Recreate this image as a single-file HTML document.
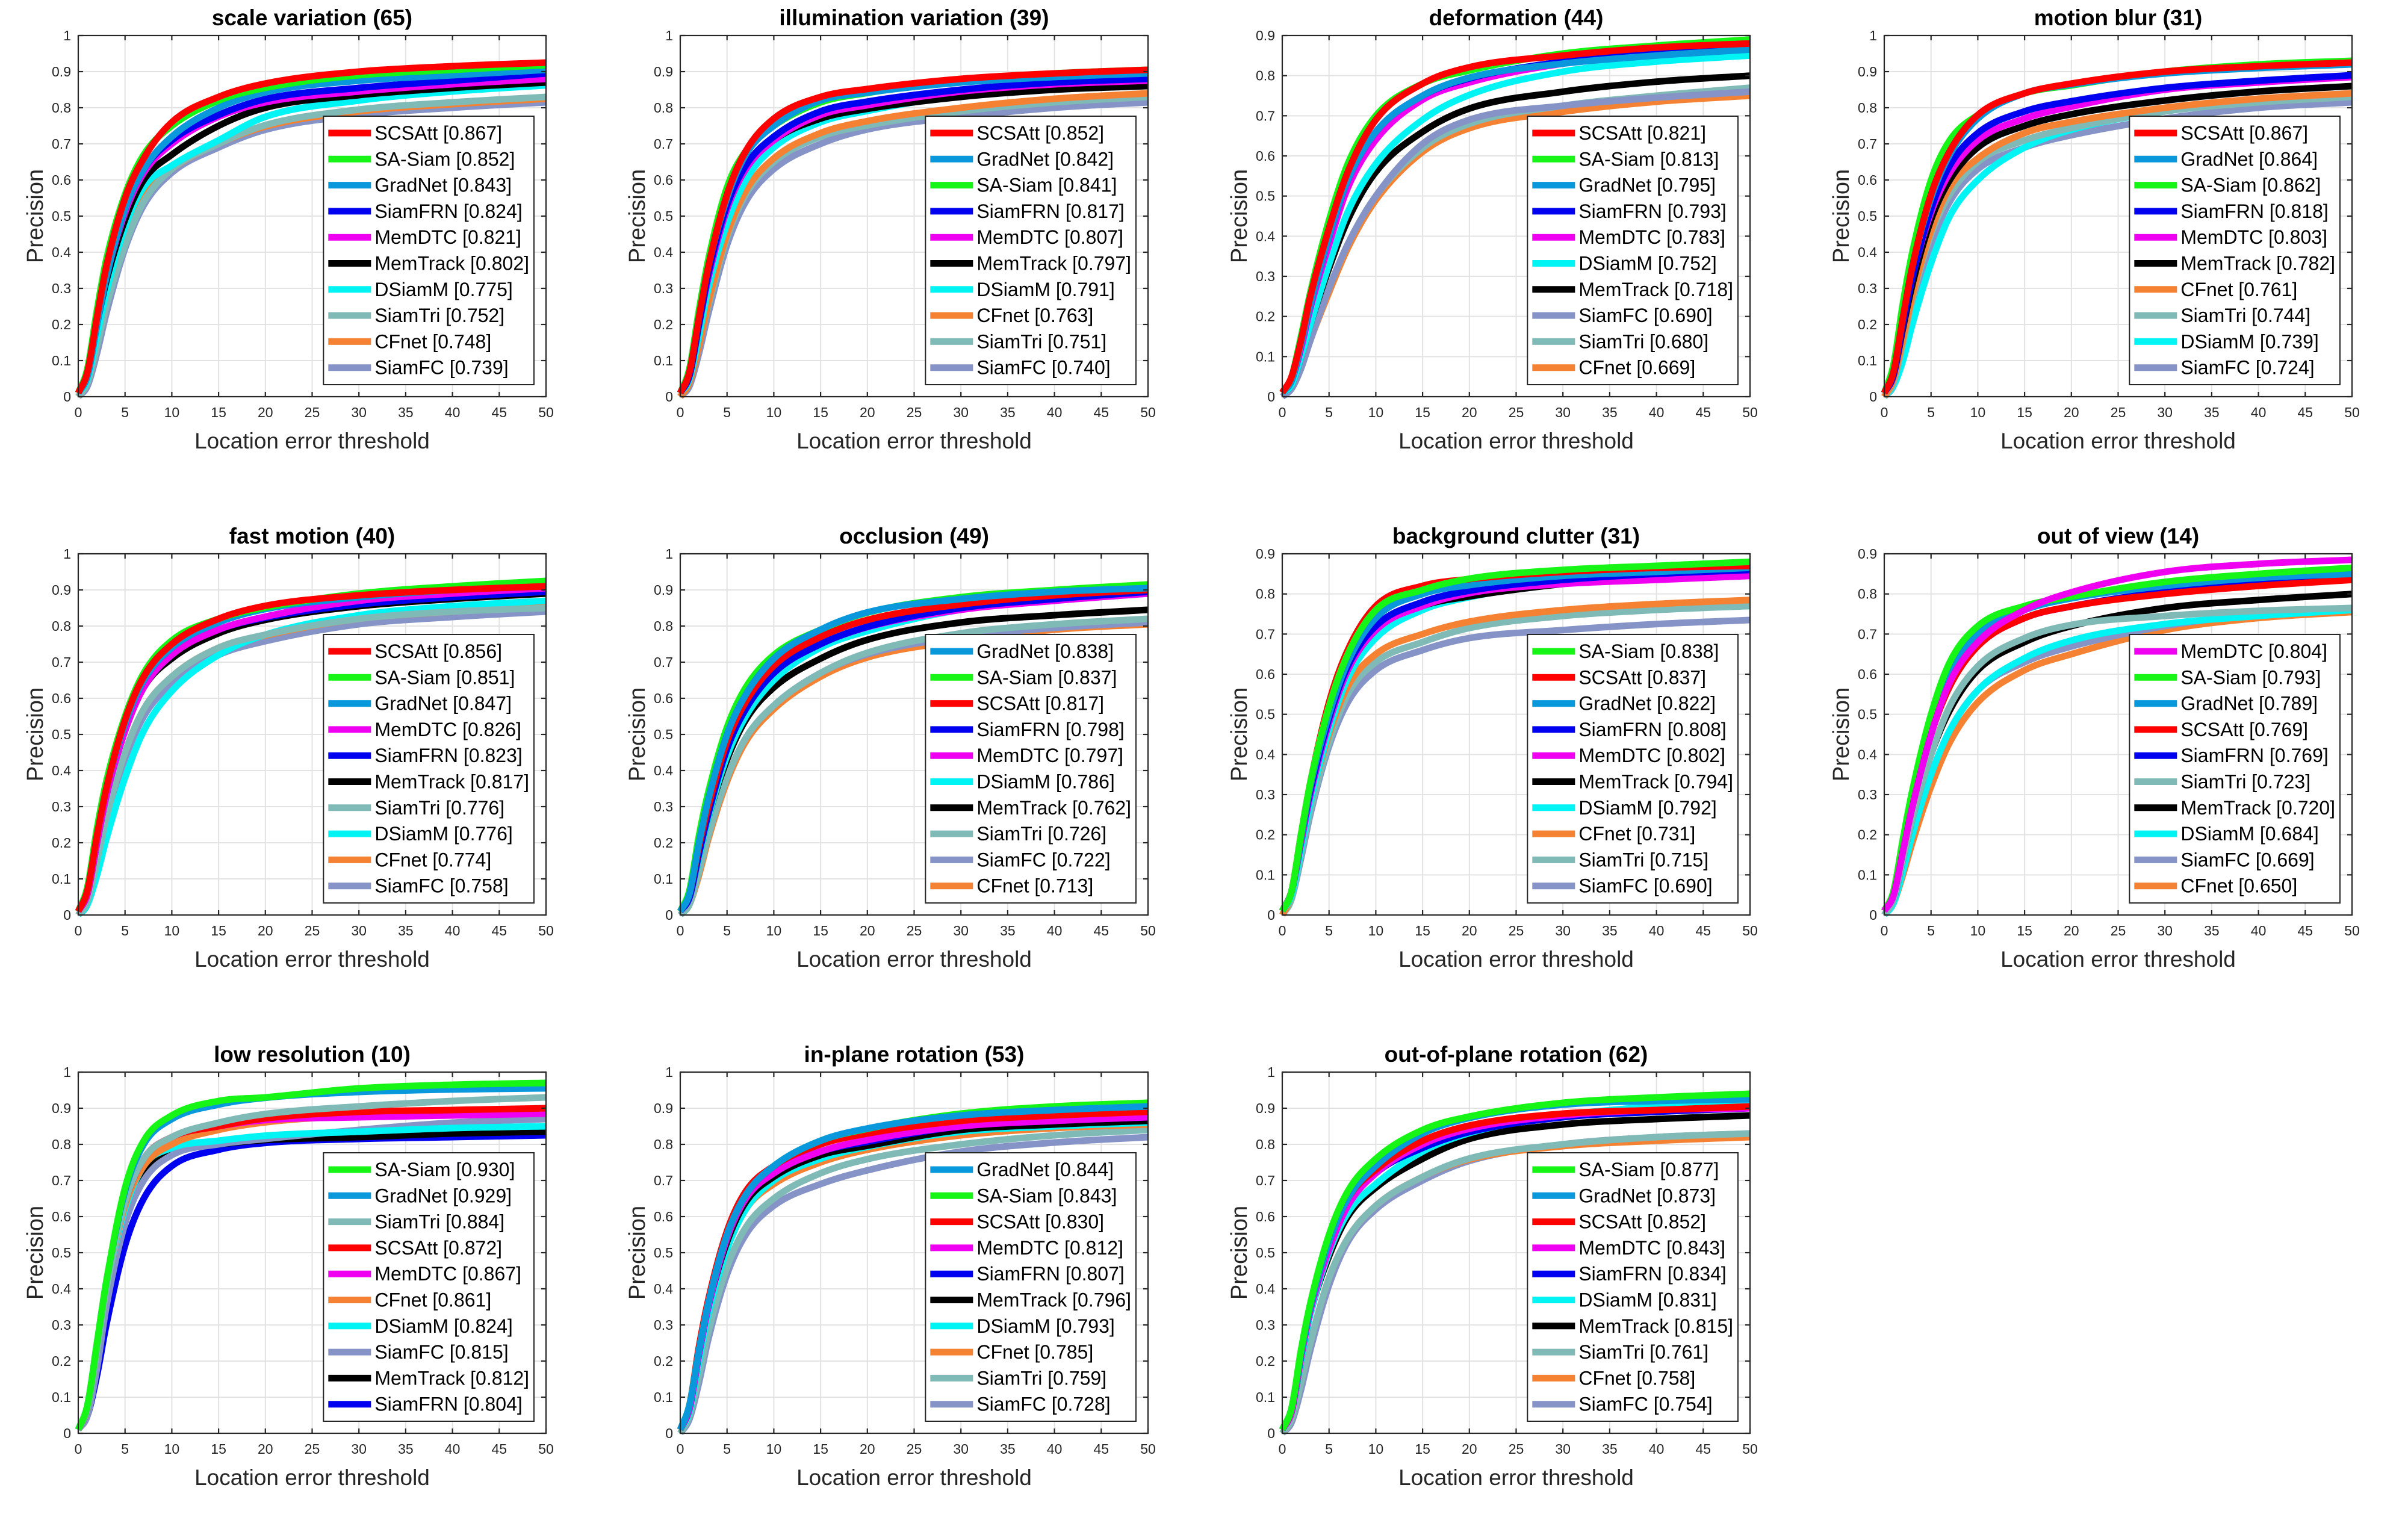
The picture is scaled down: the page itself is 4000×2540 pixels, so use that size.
<!DOCTYPE html>
<html><head><meta charset="utf-8">
<style>
html,body{margin:0;padding:0;background:#fff;}
svg{display:block;font-family:"Liberation Sans",Arial,sans-serif;}
</style></head>
<body>
<svg id="fig" xmlns="http://www.w3.org/2000/svg" width="4000" height="2540" viewBox="0 0 4000 2540">
<rect width="4000" height="2540" fill="#fff"/>
</svg>
<script>
const thresholds = [0,1,2,3,5,7,10,15,20,30,40,50];
const colors = {"SCSAtt":"#ff0000","SA-Siam":"#16f516","GradNet":"#0a98dc","SiamFRN":"#0000f0","MemDTC":"#f000f0","MemTrack":"#000000","DSiamM":"#00f4f4","SiamTri":"#80bab6","CFnet":"#f58233","SiamFC":"#8593c6"};

const titles = ["scale variation (65)","illumination variation (39)","deformation (44)","motion blur (31)","fast motion (40)","occlusion (49)","background clutter (31)","out of view (14)","low resolution (10)","in-plane rotation (53)","out-of-plane rotation (62)"];
const yMaxes = [1,1,0.9,1,1,1,0.9,0.9,1,1,1];

const names1 = ["SCSAtt","SA-Siam","GradNet","SiamFRN","MemDTC","MemTrack","DSiamM","SiamTri","CFnet","SiamFC"];
const scores1 = ["0.867","0.852","0.843","0.824","0.821","0.802","0.775","0.752","0.748","0.739"];
const values1 = [
[.01,.07,.22,.36,.55,.66,.76,.83,.867,.90,.915,.925],
[.01,.08,.24,.38,.56,.67,.75,.82,.855,.89,.905,.918],
[.01,.06,.2,.33,.52,.63,.72,.80,.843,.875,.89,.905],
[.01,.06,.2,.33,.52,.63,.71,.78,.824,.855,.875,.895],
[.01,.06,.2,.33,.51,.62,.70,.775,.815,.845,.865,.88],
[.01,.06,.2,.32,.49,.60,.67,.75,.80,.835,.855,.87],
[.01,.05,.17,.29,.47,.58,.64,.71,.775,.82,.845,.862],
[0,.04,.14,.25,.42,.54,.63,.70,.752,.795,.815,.83],
[0,.04,.14,.25,.43,.55,.63,.70,.748,.79,.81,.825],
[0,.03,.12,.23,.41,.53,.62,.69,.739,.78,.80,.815]];

const names2 = ["SCSAtt","GradNet","SA-Siam","SiamFRN","MemDTC","MemTrack","DSiamM","CFnet","SiamTri","SiamFC"];
const scores2 = ["0.852","0.842","0.841","0.817","0.807","0.797","0.791","0.763","0.751","0.740"];
const values2 = [
[.01,.07,.22,.36,.56,.68,.77,.83,.852,.88,.895,.905],
[.01,.07,.22,.36,.55,.67,.75,.82,.842,.87,.885,.895],
[.01,.08,.24,.38,.58,.68,.75,.815,.841,.875,.895,.905],
[.01,.06,.2,.34,.53,.64,.72,.79,.817,.85,.87,.88],
[.01,.06,.2,.33,.52,.63,.71,.78,.807,.845,.865,.875],
[.01,.06,.2,.33,.52,.63,.71,.77,.797,.83,.85,.86],
[.01,.05,.17,.3,.48,.6,.69,.76,.791,.835,.86,.87],
[0,.04,.14,.26,.45,.57,.66,.73,.763,.80,.825,.84],
[0,.04,.14,.25,.44,.56,.65,.72,.751,.79,.815,.83],
[0,.03,.12,.23,.42,.54,.63,.70,.740,.775,.80,.815]];

const names3 = ["SCSAtt","SA-Siam","GradNet","SiamFRN","MemDTC","DSiamM","MemTrack","SiamFC","SiamTri","CFnet"];
const scores3 = ["0.821","0.813","0.795","0.793","0.783","0.752","0.718","0.690","0.680","0.669"];
const values3 = [
[.01,.05,.14,.25,.42,.56,.69,.78,.821,.85,.87,.88],
[.01,.05,.15,.26,.44,.58,.70,.78,.813,.855,.875,.89],
[.01,.04,.13,.23,.40,.54,.66,.75,.795,.83,.85,.865],
[.01,.04,.13,.23,.40,.54,.66,.75,.793,.835,.86,.875],
[.01,.04,.12,.22,.38,.52,.64,.74,.783,.83,.855,.87],
[.01,.03,.1,.18,.33,.46,.58,.69,.752,.81,.835,.85],
[.01,.03,.1,.18,.32,.44,.56,.66,.718,.76,.785,.80],
[0,.02,.07,.14,.27,.38,.50,.63,.690,.725,.745,.76],
[0,.02,.07,.14,.27,.38,.50,.62,.680,.725,.75,.77],
[0,.02,.07,.14,.26,.37,.49,.61,.669,.71,.735,.75]];

const names4 = ["SCSAtt","GradNet","SA-Siam","SiamFRN","MemDTC","MemTrack","CFnet","SiamTri","DSiamM","SiamFC"];
const scores4 = ["0.867","0.864","0.862","0.818","0.803","0.782","0.761","0.744","0.739","0.724"];
const values4 = [
[.01,.07,.22,.36,.56,.68,.78,.84,.867,.90,.915,.925],
[.01,.07,.22,.36,.55,.67,.77,.84,.864,.895,.91,.92],
[.01,.09,.26,.40,.60,.71,.78,.84,.862,.90,.92,.93],
[.01,.06,.2,.33,.52,.64,.73,.79,.818,.855,.875,.89],
[.01,.06,.2,.33,.51,.62,.71,.77,.803,.85,.87,.885],
[.01,.06,.19,.31,.49,.60,.69,.75,.782,.82,.845,.86],
[0,.05,.16,.28,.46,.58,.66,.73,.761,.80,.825,.84],
[0,.04,.15,.27,.45,.56,.65,.71,.744,.79,.815,.83],
[0,.03,.1,.2,.37,.50,.60,.69,.739,.79,.82,.84],
[0,.03,.12,.23,.42,.54,.63,.69,.724,.77,.80,.815]];

const names5 = ["SCSAtt","SA-Siam","GradNet","MemDTC","SiamFRN","MemTrack","SiamTri","DSiamM","CFnet","SiamFC"];
const scores5 = ["0.856","0.851","0.847","0.826","0.823","0.817","0.776","0.776","0.774","0.758"];
const values5 = [
[.01,.07,.22,.35,.54,.66,.75,.82,.856,.885,.90,.91],
[.01,.08,.24,.37,.55,.67,.76,.82,.851,.89,.91,.925],
[.01,.07,.22,.35,.53,.65,.74,.81,.847,.88,.90,.915],
[.01,.06,.2,.33,.51,.63,.72,.79,.826,.87,.89,.905],
[.01,.06,.2,.33,.51,.63,.72,.79,.823,.86,.88,.895],
[.01,.06,.2,.33,.51,.63,.71,.78,.817,.855,.875,.89],
[0,.04,.15,.27,.45,.57,.66,.74,.776,.82,.84,.85],
[0,.03,.11,.21,.38,.51,.62,.72,.776,.83,.855,.87],
[0,.04,.15,.27,.45,.57,.66,.74,.774,.82,.84,.855],
[0,.03,.13,.24,.43,.55,.64,.72,.758,.805,.825,.84]];

const names6 = ["GradNet","SA-Siam","SCSAtt","SiamFRN","MemDTC","DSiamM","MemTrack","SiamTri","SiamFC","CFnet"];
const scores6 = ["0.838","0.837","0.817","0.798","0.797","0.786","0.762","0.726","0.722","0.713"];
const values6 = [
[.01,.06,.2,.32,.50,.61,.71,.79,.838,.875,.895,.905],
[.01,.07,.22,.34,.52,.63,.72,.79,.837,.88,.90,.915],
[.01,.06,.19,.30,.48,.59,.69,.77,.817,.86,.885,.90],
[.01,.05,.17,.28,.46,.57,.67,.75,.798,.85,.875,.895],
[.01,.05,.17,.28,.46,.57,.67,.75,.797,.845,.87,.89],
[.01,.05,.16,.27,.44,.55,.65,.74,.786,.845,.87,.89],
[.01,.05,.16,.27,.43,.54,.63,.71,.762,.81,.83,.845],
[0,.03,.12,.22,.38,.49,.58,.67,.726,.78,.805,.82],
[0,.03,.12,.22,.38,.49,.58,.67,.722,.77,.795,.81],
[0,.03,.11,.21,.37,.48,.57,.66,.713,.76,.79,.805]];

const names7 = ["SA-Siam","SCSAtt","GradNet","SiamFRN","MemDTC","MemTrack","DSiamM","CFnet","SiamTri","SiamFC"];
const scores7 = ["0.838","0.837","0.822","0.808","0.802","0.794","0.792","0.731","0.715","0.690"];
const values7 = [
[.01,.06,.2,.33,.52,.65,.76,.81,.838,.86,.87,.88],
[.01,.06,.2,.33,.53,.66,.77,.82,.837,.855,.865,.87],
[.01,.06,.19,.32,.50,.63,.74,.80,.822,.845,.855,.865],
[.01,.06,.19,.31,.49,.62,.72,.78,.808,.835,.85,.86],
[.01,.06,.18,.30,.48,.61,.71,.77,.802,.825,.835,.845],
[.01,.06,.18,.30,.48,.61,.71,.77,.794,.825,.845,.855],
[.01,.05,.16,.28,.46,.59,.69,.76,.792,.83,.85,.86],
[0,.05,.16,.28,.45,.57,.65,.70,.731,.76,.775,.785],
[0,.04,.15,.26,.43,.55,.63,.68,.715,.745,.76,.77],
[0,.04,.14,.25,.42,.53,.61,.66,.690,.71,.725,.735]];

const names8 = ["MemDTC","SA-Siam","GradNet","SCSAtt","SiamFRN","SiamTri","MemTrack","DSiamM","SiamFC","CFnet"];
const scores8 = ["0.804","0.793","0.789","0.769","0.769","0.723","0.720","0.684","0.669","0.650"];
const values8 = [
[.01,.05,.16,.27,.45,.58,.68,.76,.804,.855,.875,.885],
[.01,.06,.19,.31,.50,.63,.72,.77,.793,.83,.85,.865],
[.01,.05,.17,.28,.47,.60,.70,.76,.789,.82,.84,.85],
[.01,.05,.16,.27,.45,.57,.67,.74,.769,.80,.82,.835],
[.01,.05,.16,.27,.45,.57,.67,.74,.769,.805,.825,.84],
[0,.04,.14,.24,.40,.52,.62,.69,.723,.745,.758,.765],
[.01,.04,.14,.24,.40,.51,.61,.68,.720,.765,.785,.80],
[0,.03,.11,.2,.35,.46,.56,.64,.684,.725,.745,.76],
[0,.03,.11,.2,.35,.46,.56,.63,.669,.72,.75,.765],
[0,.03,.1,.18,.32,.43,.53,.61,.650,.71,.74,.755]];

const names9 = ["SA-Siam","GradNet","SiamTri","SCSAtt","MemDTC","CFnet","DSiamM","SiamFC","MemTrack","SiamFRN"];
const scores9 = ["0.930","0.929","0.884","0.872","0.867","0.861","0.824","0.815","0.812","0.804"];
const values9 = [
[.01,.08,.25,.42,.68,.81,.88,.92,.930,.955,.965,.97],
[.01,.08,.25,.42,.67,.80,.87,.91,.929,.945,.952,.955],
[.01,.07,.23,.40,.64,.76,.82,.86,.884,.905,.92,.93],
[.01,.07,.24,.41,.64,.76,.82,.85,.872,.89,.895,.90],
[.01,.07,.24,.41,.64,.76,.82,.85,.867,.875,.88,.885],
[.01,.07,.23,.40,.63,.74,.80,.84,.861,.88,.89,.90],
[.01,.07,.23,.40,.62,.74,.79,.81,.824,.835,.845,.85],
[.01,.05,.18,.35,.58,.70,.77,.80,.815,.84,.86,.87],
[.01,.07,.24,.40,.62,.73,.78,.80,.812,.82,.83,.835],
[.01,.05,.16,.30,.52,.65,.74,.785,.804,.815,.82,.825]];

const names10 = ["GradNet","SA-Siam","SCSAtt","MemDTC","SiamFRN","MemTrack","DSiamM","CFnet","SiamTri","SiamFC"];
const scores10 = ["0.844","0.843","0.830","0.812","0.807","0.796","0.793","0.785","0.759","0.728"];
const values10 = [
[.01,.08,.23,.36,.55,.66,.74,.81,.844,.88,.895,.905],
[.01,.08,.23,.36,.55,.66,.74,.81,.843,.885,.905,.915],
[.01,.08,.24,.37,.56,.67,.74,.80,.830,.865,.88,.89],
[.01,.07,.22,.35,.54,.65,.72,.78,.812,.85,.865,.875],
[.01,.07,.22,.35,.54,.65,.72,.78,.807,.85,.865,.875],
[.01,.07,.22,.35,.53,.64,.71,.77,.796,.84,.855,.865],
[.01,.06,.2,.33,.51,.62,.70,.76,.793,.835,.85,.86],
[.01,.06,.2,.33,.51,.62,.69,.75,.785,.825,.845,.855],
[0,.05,.16,.28,.46,.57,.65,.72,.759,.80,.825,.84],
[0,.04,.14,.26,.44,.55,.63,.69,.728,.78,.805,.82]];

const names11 = ["SA-Siam","GradNet","SCSAtt","MemDTC","SiamFRN","DSiamM","MemTrack","SiamTri","CFnet","SiamFC"];
const scores11 = ["0.877","0.873","0.852","0.843","0.834","0.831","0.815","0.761","0.758","0.754"];
const values11 = [
[.01,.07,.23,.36,.55,.67,.76,.84,.877,.915,.93,.94],
[.01,.07,.22,.35,.53,.65,.74,.83,.873,.91,.92,.925],
[.01,.07,.22,.35,.53,.65,.73,.81,.852,.885,.895,.905],
[.01,.06,.21,.34,.51,.63,.72,.80,.843,.88,.895,.90],
[.01,.06,.21,.34,.51,.63,.72,.79,.834,.875,.89,.90],
[.01,.06,.2,.33,.50,.61,.69,.78,.831,.88,.905,.915],
[.01,.06,.2,.33,.49,.60,.68,.76,.815,.855,.87,.88],
[0,.04,.14,.25,.43,.54,.63,.71,.761,.80,.82,.83],
[0,.04,.14,.25,.43,.54,.63,.71,.758,.795,.81,.82],
[0,.03,.12,.23,.41,.53,.62,.70,.754,.80,.82,.83]];

const xTicks = [0,5,10,15,20,25,30,35,40,45,50];
const yTicks = [0,0.1,0.2,0.3,0.4,0.5,0.6,0.7,0.8,0.9,1];

const allNames=[names1,names2,names3,names4,names5,names6,names7,names8,names9,names10,names11];
const allScores=[scores1,scores2,scores3,scores4,scores5,scores6,scores7,scores8,scores9,scores10,scores11];
const allValues=[values1,values2,values3,values4,values5,values6,values7,values8,values9,values10,values11];

const NS="http://www.w3.org/2000/svg";
const fig=document.getElementById('fig');
function mk(tag,attrs,parent){const e=document.createElementNS(NS,tag);for(const k in attrs)e.setAttribute(k,attrs[k]);parent.appendChild(e);return e;}

function monotonePath(xs,ys,sx,sy){
  const n=xs.length,d=[],m=new Array(n);
  for(let i=0;i<n-1;i++)d.push((ys[i+1]-ys[i])/(xs[i+1]-xs[i]));
  m[0]=d[0];m[n-1]=d[n-2];
  for(let i=1;i<n-1;i++){m[i]=(d[i-1]*d[i]<=0)?0:(d[i-1]+d[i])/2;}
  for(let i=0;i<n-1;i++){if(d[i]===0){m[i]=0;m[i+1]=0;continue;}const a=m[i]/d[i],b=m[i+1]/d[i],s=a*a+b*b;if(s>9){const t=3/Math.sqrt(s);m[i]=t*a*d[i];m[i+1]=t*b*d[i];}}
  let p='M'+sx(xs[0]).toFixed(1)+','+sy(ys[0]).toFixed(1);
  for(let i=0;i<n-1;i++){const h=xs[i+1]-xs[i];
    p+=' C'+sx(xs[i]+h/3).toFixed(1)+','+sy(ys[i]+m[i]*h/3).toFixed(1)+' '+sx(xs[i+1]-h/3).toFixed(1)+','+sy(ys[i+1]-m[i+1]*h/3).toFixed(1)+' '+sx(xs[i+1]).toFixed(1)+','+sy(ys[i+1]).toFixed(1);}
  return p;
}

const AW=777,AH=600,TXT="#262626";
for(let c=0;c<11;c++){
  const col=c%4,row=Math.floor(c/4);
  const L=130+1000*col,T=59+861*row,R=L+AW,B=T+AH;
  const ymax=yMaxes[c];
  const sx=v=>L+v/50*AW;
  const sy=v=>B-v/ymax*AH;
  const g=mk('g',{},fig);
  
  
  mk('rect',{x:L,y:T,width:AW,height:AH,fill:'#fff'},g);
  const grid=mk('g',{stroke:'#e3e3e3','stroke-width':2},g);
  
  
  xTicks.forEach(t=>{mk('line',{x1:sx(t),x2:sx(t),y1:T,y2:B},grid);});
  yTicks.filter(t=>t<=ymax+1e-9).forEach(t=>{mk('line',{x1:L,x2:R,y1:sy(t),y2:sy(t)},grid);});
  const names=allNames[c],vals=allValues[c],scores=allScores[c];
  for(let s=names.length-1;s>=0;s--){
    const p=mk('path',{d:monotonePath(thresholds,vals[s],sx,sy),fill:'none',stroke:colors[names[s]],'stroke-width':11,'stroke-linejoin':'round','stroke-linecap':'butt'},g);
    
    
  }
  const ax=mk('g',{stroke:TXT,'stroke-width':2.2,fill:'none'},g);
  
  
  mk('rect',{x:L,y:T,width:AW,height:AH},ax);
  xTicks.forEach(t=>{mk('line',{x1:sx(t),x2:sx(t),y1:B,y2:B-8},ax);mk('line',{x1:sx(t),x2:sx(t),y1:T,y2:T+8},ax);});
  yTicks.filter(t=>t<=ymax+1e-9).forEach(t=>{mk('line',{x1:L,x2:L+8,y1:sy(t),y2:sy(t)},ax);mk('line',{x1:R,x2:R-8,y1:sy(t),y2:sy(t)},ax);});
  xTicks.forEach(t=>{const e=mk('text',{x:sx(t),y:B+34,'text-anchor':'middle','font-size':23,fill:TXT},g);e.textContent=t;
    
    });
  yTicks.filter(t=>t<=ymax+1e-9).forEach(t=>{const e=mk('text',{x:L-12,y:sy(t)+8,'text-anchor':'end','font-size':23,fill:TXT},g);e.textContent=(t===0?'0':t===1?'1':t.toFixed(1));
    
    });
  const ti=mk('text',{x:L+AW/2,y:T-17,'text-anchor':'middle','font-size':37,'font-weight':'bold',fill:'#000'},g);ti.textContent=titles[c];
  
  
  const xl=mk('text',{x:L+AW/2,y:B+86,'text-anchor':'middle','font-size':37,fill:TXT},g);xl.textContent='Location error threshold';
  
  
  const yl=mk('text',{x:0,y:0,'text-anchor':'middle','font-size':38,fill:TXT,transform:'translate('+(L-59)+','+(T+AH/2)+') rotate(-90)'},g);yl.textContent='Precision';
  
  
  const lg=mk('g',{},g);
  
  
  const box=mk('rect',{fill:'#fff',stroke:TXT,'stroke-width':2},lg);
  const rowH=43.3,LH=10*rowH+13;
  const LB=B-20,LT=LB-LH;
  let tw=0;const texts=[];
  names.forEach((nm,k)=>{
    const cy=LT+28+k*rowH;
    const ln=mk('line',{y1:cy,y2:cy,stroke:colors[nm],'stroke-width':11},lg);
    
    
    const t=mk('text',{y:cy+11,'font-size':32,fill:'#000'},lg);t.textContent=nm+' ['+scores[k]+']';
    
    
    tw=Math.max(tw,t.getComputedTextLength());texts.push([ln,t]);
  });
  const LW=85+tw+8,LLx=R-20-LW;
  box.setAttribute('x',LLx);box.setAttribute('y',LT);box.setAttribute('width',LW);box.setAttribute('height',LH);
  texts.forEach(([ln,t])=>{ln.setAttribute('x1',LLx+8);ln.setAttribute('x2',LLx+79);t.setAttribute('x',LLx+85);});
}
</script>
</body></html>
